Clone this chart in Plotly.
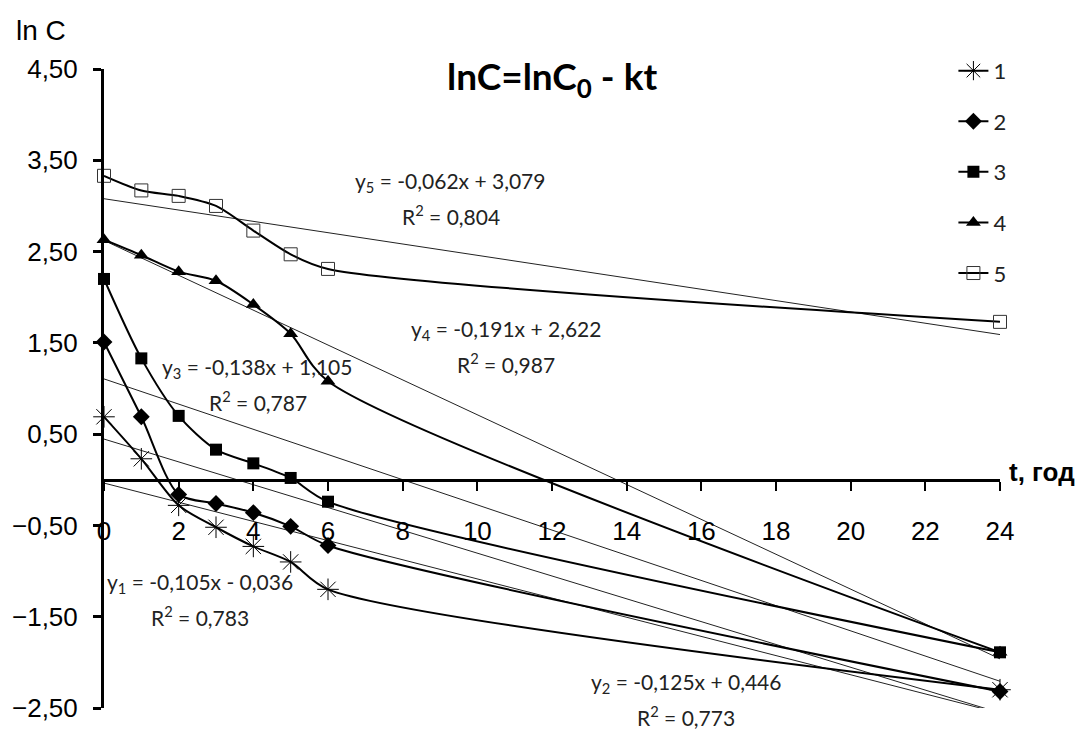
import plotly.graph_objects as go

# Sampling times, hours
t = [0, 1, 2, 3, 4, 5, 6, 24]

# ln C for each series
lnc_1 = [0.69, 0.23, -0.28, -0.52, -0.73, -0.90, -1.20, -2.30]
lnc_2 = [1.51, 0.69, -0.16, -0.26, -0.36, -0.51, -0.72, -2.32]
lnc_3 = [2.20, 1.33, 0.70, 0.33, 0.18, 0.02, -0.24, -1.89]
lnc_4 = [2.63, 2.46, 2.28, 2.18, 1.92, 1.60, 1.08, -1.89]
lnc_5 = [3.33, 3.17, 3.11, 3.00, 2.73, 2.47, 2.31, 1.73]

series_names = ["1", "2", "3", "4", "5"]
series_values = [lnc_1, lnc_2, lnc_3, lnc_4, lnc_5]

# Linear trend parameters (slope k, intercept ln C0) and R^2
trend_slope = [-0.105, -0.125, -0.138, -0.191, -0.062]
trend_intercept = [-0.036, 0.446, 1.105, 2.622, 3.079]
trend_r2 = [0.783, 0.773, 0.787, 0.987, 0.804]

x_ticks = [0, 2, 4, 6, 8, 10, 12, 14, 16, 18, 20, 22, 24]
y_ticks = [-2.5, -1.5, -0.5, 0.5, 1.5, 2.5, 3.5, 4.5]

TICK_FONT = "Liberation Sans Narrow, Arial Narrow, Liberation Sans, Arial"
NOTE_FONT = "Lato, Calibri, Open Sans, sans-serif"

markers = [
    dict(symbol="asterisk-open", size=18, line=dict(width=1, color="#222")),
    dict(symbol="diamond", size=13, color="black"),
    dict(symbol="square", size=12, color="black"),
    dict(symbol="triangle-up", size=13, color="black"),
    dict(symbol="square-open", size=13, color="#333", line=dict(width=1, color="#333")),
]

fig = go.Figure()

# Fitted lines, spanning the whole time axis
for k, b in zip(trend_slope, trend_intercept):
    xs = [x_ticks[0], x_ticks[-1]]
    fig.add_trace(go.Scatter(
        x=xs, y=[k * x + b for x in xs], mode="lines",
        line=dict(color="#222", width=1), showlegend=False, hoverinfo="skip",
    ))

# Measured points joined with smoothed lines
for i, (name, vals) in enumerate(zip(series_names, series_values)):
    fig.add_trace(go.Scatter(
        x=t, y=vals, name=name, mode="lines+markers",
        line=dict(color="black", width=2, shape="spline", smoothing=0.8),
        marker=markers[i], cliponaxis=False, legendgroup=name,
    ))

# Trend equation labels: (x, y) of the equation line; R^2 line sits below it
eq_pos = [(2.57, -1.13), (15.6, -2.23), (4.09, 1.22), (10.76, 1.64), (9.27, 3.26)]
r2_dx = [0.0, 0.0, 0.04, 0.02, 0.03]

def fmt(v):
    return f"{v:.3f}".replace(".", ",")

for i, (ex, ey) in enumerate(eq_pos):
    k, b = trend_slope[i], trend_intercept[i]
    sign = "+" if b >= 0 else "-"
    eq = f"y<sub>{i + 1}</sub> = {fmt(k)}x {sign} {fmt(abs(b))}"
    fig.add_annotation(x=ex, y=ey, text=eq, showarrow=False,
                       font=dict(family=NOTE_FONT, size=21, color="#222"))
    fig.add_annotation(x=ex + r2_dx[i], y=ey, yshift=-33,
                       text=f"R<sup>2</sup> = {fmt(trend_r2[i])}",
                       showarrow=False,
                       font=dict(family=NOTE_FONT, size=21, color="#222"))

fig.add_annotation(xref="paper", yref="paper", x=0.5, y=0.985, yanchor="middle",
                   text="<b>lnC=lnC<sub>0</sub> - kt</b>", showarrow=False,
                   font=dict(family=NOTE_FONT, size=37, color="black"))
fig.add_annotation(xref="paper", yref="paper", x=-0.1, y=1.06, xanchor="left",
                   yanchor="middle", text="ln C", showarrow=False,
                   font=dict(family=TICK_FONT, size=28, color="black"))
fig.add_annotation(xref="paper", yref="y", x=1.008, y=0.09, xanchor="left",
                   yanchor="middle", text="<b>t, год</b>", showarrow=False,
                   font=dict(family=TICK_FONT, size=26, color="black"))

fig.update_layout(
    width=1087, height=735,
    margin=dict(l=92, r=87, t=69, b=20),
    paper_bgcolor="white", plot_bgcolor="white",
    separators=", ",
    showlegend=True,
    legend=dict(x=0.948, xanchor="left", y=1.03, yanchor="top",
                font=dict(family=NOTE_FONT, size=22, color="#222"),
                tracegroupgap=19, bgcolor="rgba(0,0,0,0)"),
    xaxis=dict(range=[0, 24], tickvals=x_ticks, showgrid=False, zeroline=False,
               anchor="free", position=2.5 / 7, showline=True, linecolor="black",
               linewidth=3, ticks="outside", ticklen=9, tickwidth=2,
               tickcolor="black", ticklabelstandoff=18,
               tickfont=dict(family=TICK_FONT, size=26, color="black")),
    yaxis=dict(range=[-2.5, 4.5], tickvals=y_ticks, tickformat=".2f",
               showgrid=False, zeroline=False, showline=True, linecolor="black",
               linewidth=3, ticks="outside", ticklen=8, tickwidth=3,
               tickcolor="black", ticklabelstandoff=10,
               tickfont=dict(family=TICK_FONT, size=26, color="black")),
)

fig.write_html("out.html")
